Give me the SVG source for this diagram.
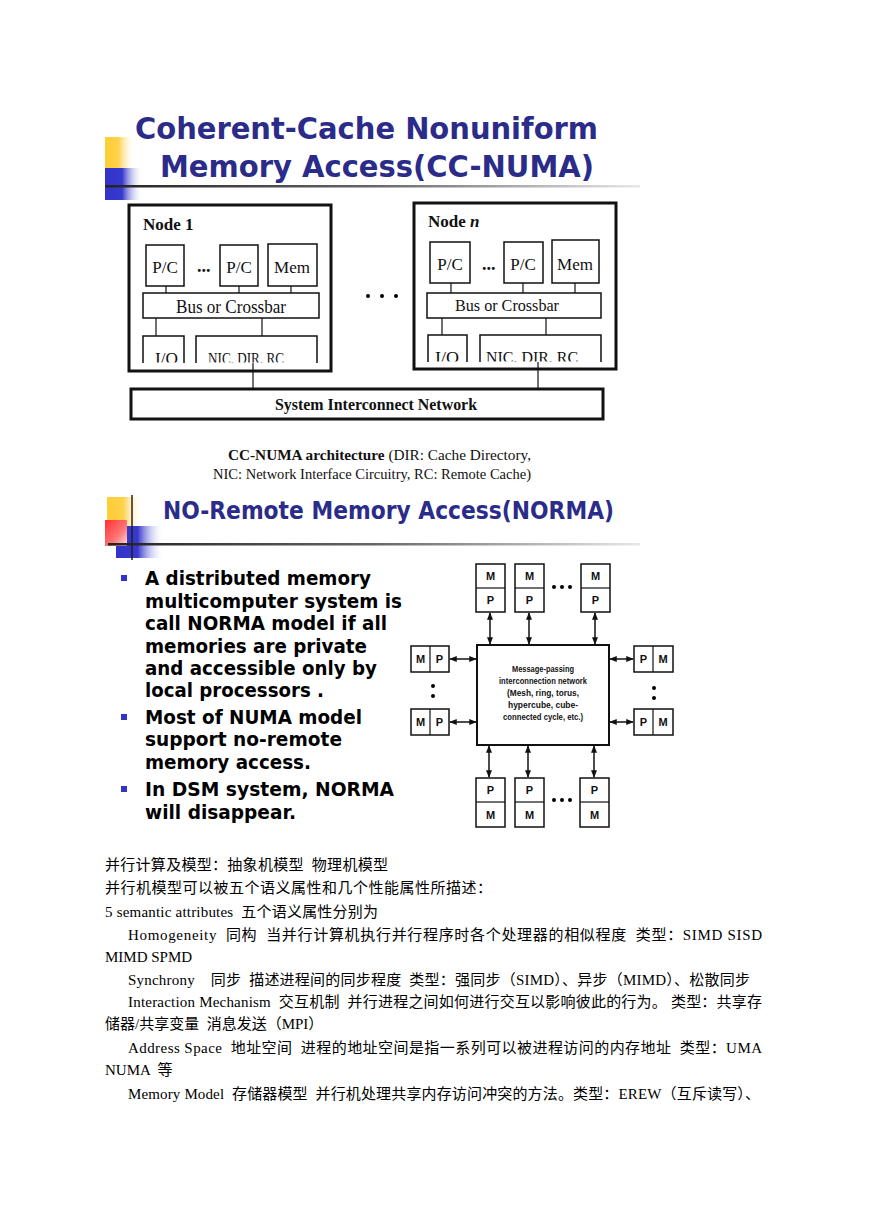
<svg xmlns="http://www.w3.org/2000/svg" width="869" height="1228" viewBox="0 0 869 1228">
<defs>
<linearGradient id="gY" x1="0" y1="0" x2="1" y2="0"><stop offset="0" stop-color="#FFCC33"/><stop offset="0.45" stop-color="#FFD24D"/><stop offset="1" stop-color="#FFFFFF" stop-opacity="0"/></linearGradient>
<linearGradient id="gB" x1="0" y1="0" x2="1" y2="0"><stop offset="0" stop-color="#3333CC"/><stop offset="0.45" stop-color="#3838CC"/><stop offset="1" stop-color="#FFFFFF" stop-opacity="0"/></linearGradient>
<linearGradient id="gR" x1="0" y1="0" x2="1" y2="1"><stop offset="0" stop-color="#FF3030"/><stop offset="0.6" stop-color="#FF7777"/><stop offset="1" stop-color="#FFDDDD"/></linearGradient>
<linearGradient id="gL" x1="0" y1="0" x2="1" y2="0"><stop offset="0" stop-color="#222222"/><stop offset="0.5" stop-color="#666666"/><stop offset="1" stop-color="#E8E8E8"/></linearGradient>
<clipPath id="cut"><rect x="0" y="0" width="869" height="362.5"/></clipPath>
<clipPath id="cutn"><rect x="0" y="0" width="869" height="361.5"/></clipPath>
<marker id="ah" viewBox="0 0 10 10" refX="9" refY="5" markerWidth="5" markerHeight="5" orient="auto-start-reverse"><path d="M0,1 L10,5 L0,9 Z" fill="#111"/></marker>
</defs>
<style>
.title{font-family:"DejaVu Sans",Verdana,sans-serif;font-weight:bold;fill:#2B2C8A}
.box{fill:#fff;stroke:#111;stroke-width:1.5}
.thick{fill:#fff;stroke:#111;stroke-width:3}
.open{fill:none;stroke:#111;stroke-width:1.5}
.ln{stroke:#111;stroke-width:1.2;fill:none}
.arr{stroke:#111;stroke-width:1.5;fill:none;marker-start:url(#ah);marker-end:url(#ah)}
.sf{font-family:"Liberation Serif","Times New Roman",serif;fill:#111}
.bul{font-family:"DejaVu Sans",Verdana,sans-serif;font-weight:bold;font-size:20px;fill:#000}
.sq{fill:#3333CC}
.body{font-family:"Liberation Serif","Noto Sans CJK SC",serif;font-size:15px;fill:#000;white-space:pre}
.mp{font-family:"Liberation Sans",Arial,sans-serif;font-weight:bold;font-size:11px;fill:#111;text-anchor:middle}
.net{font-family:"Liberation Sans",Arial,sans-serif;font-weight:bold;font-size:9px;fill:#111;text-anchor:middle}
</style>
<rect width="869" height="1228" fill="#fff"/>

<g id="title1">
<rect x="105" y="137" width="30" height="31" fill="url(#gY)"/>
<rect x="105" y="168" width="38" height="32" fill="url(#gB)"/>
<rect x="105" y="185" width="535" height="2.5" fill="url(#gL)"/>
<text class="title" x="135" y="139" font-size="31" textLength="463" lengthAdjust="spacingAndGlyphs">Coherent-Cache Nonuniform</text>
<text class="title" x="160" y="177" font-size="31" textLength="434" lengthAdjust="spacingAndGlyphs">Memory Access(CC-NUMA)</text>
</g>

<g id="node1">
<rect class="thick" x="129" y="205" width="202" height="166"/>
<text class="sf" x="143" y="230" font-size="17" font-weight="bold">Node 1</text>
<rect class="box" x="146" y="245" width="38" height="41"/>
<text class="sf" x="165" y="273" font-size="17" text-anchor="middle">P/C</text>
<text class="sf" x="197" y="272" font-size="18" font-weight="bold">...</text>
<rect class="box" x="220" y="245" width="38" height="41"/>
<text class="sf" x="239" y="273" font-size="17" text-anchor="middle">P/C</text>
<rect class="box" x="268" y="244" width="49" height="42"/>
<text class="sf" x="292" y="273" font-size="17" text-anchor="middle">Mem</text>
<line class="ln" x1="166" y1="286" x2="166" y2="293"/>
<line class="ln" x1="239" y1="286" x2="239" y2="293"/>
<line class="ln" x1="291" y1="286" x2="291" y2="293"/>
<rect class="box" x="143" y="293" width="176" height="25"/>
<text class="sf" x="231" y="313" font-size="19" text-anchor="middle" textLength="110" lengthAdjust="spacingAndGlyphs">Bus or Crossbar</text>
<line class="ln" x1="156" y1="318" x2="156" y2="336"/>
<line class="ln" x1="262" y1="318" x2="262" y2="336"/>
<path class="open" d="M143,363 V336 H184 V363"/>
<path class="open" d="M196,363 V336 H317 V363"/>
<g clip-path="url(#cut)">
<text class="sf" x="155" y="364" font-size="17" textLength="23" lengthAdjust="spacingAndGlyphs">I/O</text>
<text class="sf" x="208" y="364" font-size="17" textLength="76" lengthAdjust="spacingAndGlyphs">NIC, DIR, RC</text>
</g>
</g>

<g id="noden">
<rect class="thick" x="414" y="203" width="202" height="166"/>
<text class="sf" x="428" y="227" font-size="17" font-weight="bold">Node <tspan font-style="italic">n</tspan></text>
<rect class="box" x="430" y="242" width="40" height="41"/>
<text class="sf" x="450" y="270" font-size="17" text-anchor="middle">P/C</text>
<text class="sf" x="482" y="270" font-size="18" font-weight="bold">...</text>
<rect class="box" x="504" y="242" width="39" height="41"/>
<text class="sf" x="523" y="270" font-size="17" text-anchor="middle">P/C</text>
<rect class="box" x="552" y="240" width="47" height="43"/>
<text class="sf" x="575" y="270" font-size="17" text-anchor="middle">Mem</text>
<line class="ln" x1="451" y1="283" x2="451" y2="293"/>
<line class="ln" x1="523" y1="283" x2="523" y2="293"/>
<line class="ln" x1="575" y1="283" x2="575" y2="293"/>
<rect class="box" x="427" y="293" width="174" height="25"/>
<text class="sf" x="507" y="311" font-size="17" text-anchor="middle" textLength="104" lengthAdjust="spacingAndGlyphs">Bus or Crossbar</text>
<line class="ln" x1="442" y1="318" x2="442" y2="335"/>
<line class="ln" x1="546" y1="318" x2="546" y2="335"/>
<path class="open" d="M428,362 V335 H467 V362"/>
<path class="open" d="M480,362 V335 H601 V362"/>
<g clip-path="url(#cutn)">
<text class="sf" x="435" y="363" font-size="17" textLength="24" lengthAdjust="spacingAndGlyphs">I/O</text>
<text class="sf" x="486" y="363" font-size="17" textLength="92" lengthAdjust="spacingAndGlyphs">NIC, DIR, RC</text>
</g>
</g>

<g id="dots-between">
<circle cx="368" cy="296" r="2"/>
<circle cx="382" cy="296" r="2"/>
<circle cx="396" cy="296" r="2"/>
</g>

<g id="network">
<rect class="thick" x="131" y="389" width="472" height="30"/>
<text class="sf" x="275" y="410" font-size="16" font-weight="bold" textLength="202" lengthAdjust="spacingAndGlyphs">System Interconnect Network</text>
</g>

<g id="connectors1">
<line class="ln" x1="253" y1="363" x2="253" y2="388"/>
<line class="ln" x1="538" y1="362" x2="538" y2="388"/>
</g>

<g id="caption1">
<text class="sf" x="228" y="460" font-size="15" textLength="303" lengthAdjust="spacingAndGlyphs"><tspan font-weight="bold">CC-NUMA architecture</tspan> (DIR: Cache Directory,</text>
<text class="sf" x="213" y="479" font-size="15" textLength="318" lengthAdjust="spacingAndGlyphs">NIC: Network Interface Circuitry, RC: Remote Cache)</text>
</g>

<g id="title2">
<rect x="107" y="497" width="36" height="29" fill="url(#gY)"/>
<rect x="116" y="526" width="48" height="32" fill="url(#gB)"/>
<rect x="105" y="520" width="22" height="26" fill="url(#gR)"/>
<rect x="108" y="543" width="532" height="2.5" fill="url(#gL)"/>
<line x1="132" y1="495" x2="132" y2="560" stroke="#222" stroke-width="1.5"/>
<text class="title" x="163" y="519" font-size="25" textLength="451" lengthAdjust="spacingAndGlyphs">NO-Remote Memory Access(NORMA)</text>
</g>

<g id="bullets">
<rect class="sq" x="121" y="575" width="6" height="6"/>
<rect class="sq" x="121" y="714" width="6" height="6"/>
<rect class="sq" x="121" y="786" width="6" height="6"/>
<text class="bul" x="145" y="585" textLength="226" lengthAdjust="spacingAndGlyphs">A distributed memory</text>
<text class="bul" x="145" y="608" textLength="257" lengthAdjust="spacingAndGlyphs">multicomputer system is</text>
<text class="bul" x="145" y="630" textLength="242" lengthAdjust="spacingAndGlyphs">call NORMA model if all</text>
<text class="bul" x="145" y="653" textLength="222" lengthAdjust="spacingAndGlyphs">memories are private</text>
<text class="bul" x="145" y="675" textLength="232" lengthAdjust="spacingAndGlyphs">and accessible only by</text>
<text class="bul" x="145" y="697" textLength="179" lengthAdjust="spacingAndGlyphs">local processors .</text>
<text class="bul" x="145" y="724" textLength="217" lengthAdjust="spacingAndGlyphs">Most of NUMA model</text>
<text class="bul" x="145" y="746" textLength="197" lengthAdjust="spacingAndGlyphs">support no-remote</text>
<text class="bul" x="145" y="769" textLength="166" lengthAdjust="spacingAndGlyphs">memory access.</text>
<text class="bul" x="145" y="796" textLength="249" lengthAdjust="spacingAndGlyphs">In DSM system, NORMA</text>
<text class="bul" x="145" y="819" textLength="151" lengthAdjust="spacingAndGlyphs">will disappear.</text>
</g>

<g id="top1"><rect class="box" x="476" y="564" width="29" height="48"/><line class="ln" x1="476" y1="588" x2="505" y2="588"/><text class="mp" x="490.5" y="580">M</text><text class="mp" x="490.5" y="604">P</text></g>
<g id="top2"><rect class="box" x="515" y="564" width="29" height="48"/><line class="ln" x1="515" y1="588" x2="544" y2="588"/><text class="mp" x="529.5" y="580">M</text><text class="mp" x="529.5" y="604">P</text></g>
<g id="top3"><rect class="box" x="581" y="564" width="29" height="48"/><line class="ln" x1="581" y1="588" x2="610" y2="588"/><text class="mp" x="595.5" y="580">M</text><text class="mp" x="595.5" y="604">P</text></g>
<g id="topdots"><circle cx="554" cy="587" r="2"/><circle cx="562" cy="587" r="2"/><circle cx="570" cy="587" r="2"/></g>

<g id="center">
<rect x="477" y="645" width="132" height="100" fill="#fff" stroke="#111" stroke-width="2"/>
<text class="net" x="543" y="672" textLength="62" lengthAdjust="spacingAndGlyphs">Message-passing</text>
<text class="net" x="543" y="684" textLength="88" lengthAdjust="spacingAndGlyphs">interconnection network</text>
<text class="net" x="543" y="696" textLength="72" lengthAdjust="spacingAndGlyphs">(Mesh, ring, torus,</text>
<text class="net" x="543" y="708" textLength="70" lengthAdjust="spacingAndGlyphs">hypercube, cube-</text>
<text class="net" x="543" y="720" textLength="80" lengthAdjust="spacingAndGlyphs">connected cycle, etc.)</text>
</g>

<g id="left1"><rect class="box" x="411" y="646" width="38" height="26"/><line class="ln" x1="430" y1="646" x2="430" y2="672"/><text class="mp" x="420.5" y="663">M</text><text class="mp" x="439.5" y="663">P</text></g>
<g id="left2"><rect class="box" x="411" y="709" width="38" height="26"/><line class="ln" x1="430" y1="709" x2="430" y2="735"/><text class="mp" x="420.5" y="726">M</text><text class="mp" x="439.5" y="726">P</text></g>
<g id="leftdots"><circle cx="433" cy="686" r="2"/><circle cx="433" cy="696" r="2"/></g>

<g id="right1"><rect class="box" x="634" y="646" width="39" height="26"/><line class="ln" x1="653" y1="646" x2="653" y2="672"/><text class="mp" x="643.5" y="663">P</text><text class="mp" x="663" y="663">M</text></g>
<g id="right2"><rect class="box" x="634" y="709" width="39" height="26"/><line class="ln" x1="653" y1="709" x2="653" y2="735"/><text class="mp" x="643.5" y="726">P</text><text class="mp" x="663" y="726">M</text></g>
<g id="rightdots"><circle cx="654" cy="688" r="2"/><circle cx="654" cy="698" r="2"/></g>

<g id="bot1"><rect class="box" x="476" y="778" width="29" height="49"/><line class="ln" x1="476" y1="802" x2="505" y2="802"/><text class="mp" x="490.5" y="794">P</text><text class="mp" x="490.5" y="819">M</text></g>
<g id="bot2"><rect class="box" x="515" y="778" width="29" height="49"/><line class="ln" x1="515" y1="802" x2="544" y2="802"/><text class="mp" x="529.5" y="794">P</text><text class="mp" x="529.5" y="819">M</text></g>
<g id="bot3"><rect class="box" x="580" y="778" width="29" height="49"/><line class="ln" x1="580" y1="802" x2="609" y2="802"/><text class="mp" x="594.5" y="794">P</text><text class="mp" x="594.5" y="819">M</text></g>
<g id="botdots"><circle cx="554" cy="800" r="2"/><circle cx="562" cy="800" r="2"/><circle cx="570" cy="800" r="2"/></g>

<g id="connectors2">
<line class="arr" x1="490" y1="613" x2="490" y2="644"/>
<line class="arr" x1="529" y1="613" x2="529" y2="644"/>
<line class="arr" x1="595" y1="613" x2="595" y2="644"/>
<line class="arr" x1="450" y1="659" x2="476" y2="659"/>
<line class="arr" x1="450" y1="722" x2="476" y2="722"/>
<line class="arr" x1="610" y1="659" x2="633" y2="659"/>
<line class="arr" x1="610" y1="722" x2="633" y2="722"/>
<line class="arr" x1="489" y1="746" x2="489" y2="777"/>
<line class="arr" x1="528" y1="746" x2="528" y2="777"/>
<line class="arr" x1="594" y1="746" x2="594" y2="777"/>
</g>

<g id="bodytext">
<text class="body" xml:space="preserve" x="105" y="870" textLength="283">并行计算及模型：抽象机模型  物理机模型</text>
<text class="body" xml:space="preserve" x="105" y="893" textLength="387">并行机模型可以被五个语义属性和几个性能属性所描述：</text>
<text class="body" xml:space="preserve" x="105" y="917" textLength="273">5 semantic attributes  五个语义属性分别为</text>
<text class="body" xml:space="preserve" x="128" y="940" textLength="634">Homogeneity  同构  当并行计算机执行并行程序时各个处理器的相似程度  类型：SIMD SISD</text>
<text class="body" xml:space="preserve" x="105" y="962">MIMD SPMD</text>
<text class="body" xml:space="preserve" x="128" y="985" textLength="622">Synchrony    同步  描述进程间的同步程度  类型：强同步（SIMD）、异步（MIMD）、松散同步</text>
<text class="body" xml:space="preserve" x="128" y="1007" textLength="634">Interaction Mechanism  交互机制  并行进程之间如何进行交互以影响彼此的行为。 类型：共享存</text>
<text class="body" xml:space="preserve" x="105" y="1029">储器/共享变量  消息发送（MPI）</text>
<text class="body" xml:space="preserve" x="128" y="1053" textLength="634">Address Space  地址空间  进程的地址空间是指一系列可以被进程访问的内存地址  类型：UMA</text>
<text class="body" xml:space="preserve" x="105" y="1075">NUMA  等</text>
<text class="body" xml:space="preserve" x="128" y="1099" textLength="632">Memory Model  存储器模型  并行机处理共享内存访问冲突的方法。类型：EREW（互斥读写）、</text>
</g>
</svg>
